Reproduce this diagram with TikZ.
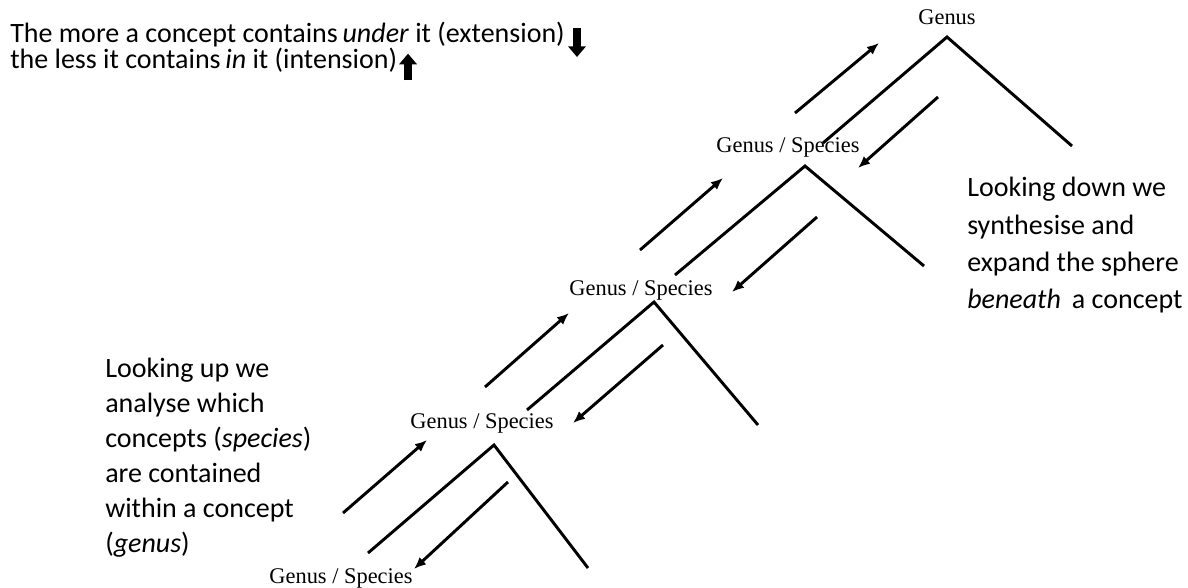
\documentclass[tikz,border=0pt]{standalone}
\usepackage{fontspec}
\setmainfont{Liberation Serif}
\newfontfamily\notefont{Carlito}
\usetikzlibrary{arrows.meta,positioning}

\begin{document}
\begin{tikzpicture}[x=0.75pt, y=-0.75pt,
  lbl/.style={font=\fontsize{16.8}{20}\selectfont, inner sep=0pt},
  note/.style={font=\notefont\fontsize{21}{#1}\selectfont, inner sep=0pt, align=left},
  tree/.style={line width=2.2pt, line join=miter},
  flow/.style={line width=2.2pt, -{Latex[length=9pt,width=7.5pt]}},
  bigarrow/.style={line width=5.5pt, -{Triangle[length=8pt,width=13pt]}}]
% Canvas in pixel units, y grows downward
\useasboundingbox (0,0) rectangle (1188,588);

% Heading lines with their heavy arrows
\node[note=20, anchor=base west] (ext) at (10,43) {The more a concept contains\,\textit{under} it (extension)};
\node[note=20, anchor=base west] (int) at (10,69) {the less it contains\,\textit{in} it (intension)};
\coordinate (extarr) at ([xshift=9pt]ext.base east);
\coordinate (intarr) at ([xshift=8pt]int.base east);
\draw[bigarrow] ([yshift=11pt]extarr) -- ([yshift=-10.5pt]extarr);
\draw[bigarrow] ([yshift=-8.5pt]intarr) -- ([yshift=11.5pt]intarr);

% Side notes
\node[note=28, anchor=north west] (down) at (967,177) {Looking down we\\synthesise and\\expand the sphere\\\textit{beneath} \,a concept};
\node[note=26.25, anchor=north west] (up) at (105,358) {Looking up we\\analyse which\\concepts (\textit{species})\\are contained\\within a concept\\(\textit{genus})};

% Concept labels
\node[lbl] (g0) at (947,17) {Genus};
\node[lbl] (g1) at (788,147) {Genus / Species};
\node[lbl] (g2) at (641,290) {Genus / Species};
\node[lbl] (g3) at (482,423) {Genus / Species};
\node[lbl] (g4) at (341,578) {Genus / Species};

% Branch points
\coordinate (top0) at (947,37);
\coordinate (left0) at (823,143);
\coordinate (right0) at (1072,146);
\coordinate (top1) at (805,166);
\coordinate (left1) at (675,275);
\coordinate (right1) at (924,266);
\coordinate (top2) at (654,302);
\coordinate (left2) at (527,410);
\coordinate (right2) at (758,425);
\coordinate (top3) at (494,445);
\coordinate (left3) at (368,553);
\coordinate (right3) at (588,568);

% Branches
\draw[tree] (left0) -- (top0) -- (right0);
\draw[tree] (left1) -- (top1) -- (right1);
\draw[tree] (left2) -- (top2) -- (right2);
\draw[tree] (left3) -- (top3) -- (right3);

% Upward arrows
\coordinate (up0a) at (795,113);
\coordinate (up0b) at (879,43);
\coordinate (up1a) at (640,250);
\coordinate (up1b) at (723,178);
\coordinate (up2a) at (485,387);
\coordinate (up2b) at (569,313);
\coordinate (up3a) at (343,513);
\coordinate (up3b) at (427,440);
\draw[flow] (up0a) -- (up0b);
\draw[flow] (up1a) -- (up1b);
\draw[flow] (up2a) -- (up2b);
\draw[flow] (up3a) -- (up3b);

% Downward arrows
\coordinate (dn0a) at (938,97);
\coordinate (dn0b) at (858,168);
\coordinate (dn1a) at (817,217);
\coordinate (dn1b) at (732,292);
\coordinate (dn2a) at (663,345);
\coordinate (dn2b) at (573,423);
\coordinate (dn3a) at (508,482);
\coordinate (dn3b) at (414,569);
\draw[flow] (dn0a) -- (dn0b);
\draw[flow] (dn1a) -- (dn1b);
\draw[flow] (dn2a) -- (dn2b);
\draw[flow] (dn3a) -- (dn3b);
\end{tikzpicture}
\end{document}
